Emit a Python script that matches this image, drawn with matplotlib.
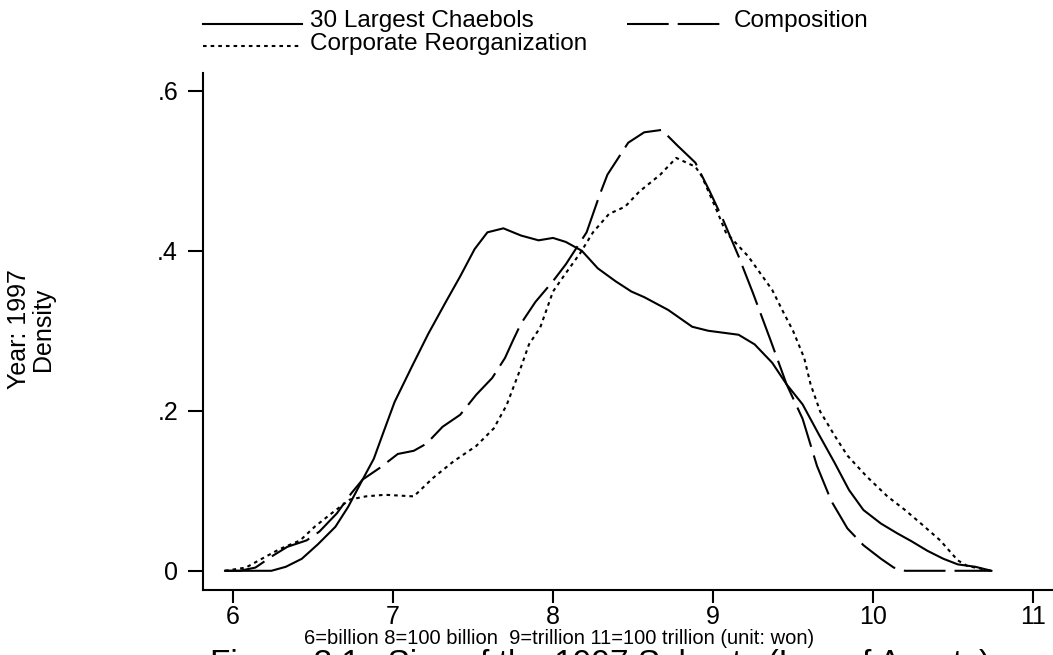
import matplotlib
matplotlib.use("Agg")
import numpy as np
import matplotlib.pyplot as plt
from matplotlib.legend_handler import HandlerLine2D
from matplotlib.lines import Line2D

plt.rcParams['font.family'] = ['Liberation Sans', 'DejaVu Sans']
plt.rcParams['lines.scale_dashes'] = False

# ---- data (log10 of assets, kernel density) ----
chaebol_x = [5.95, 6.24, 6.33, 6.43, 6.53, 6.64, 6.72, 6.81, 6.88, 6.94, 7.01, 7.12,
             7.22, 7.33, 7.42, 7.51, 7.59, 7.69, 7.80, 7.91, 8.00, 8.08, 8.18, 8.28,
             8.39, 8.49, 8.57, 8.72, 8.87, 8.97, 9.16, 9.26, 9.37, 9.46, 9.56, 9.66,
             9.76, 9.85, 9.94, 10.05, 10.15, 10.24, 10.34, 10.44, 10.53, 10.64, 10.74]
chaebol_y = [0.0, 0.0, 0.005, 0.015, 0.033, 0.055, 0.080, 0.114, 0.140, 0.173, 0.211, 0.256,
             0.296, 0.336, 0.368, 0.402, 0.423, 0.428, 0.419, 0.413, 0.416, 0.411, 0.400, 0.378,
             0.362, 0.349, 0.342, 0.326, 0.305, 0.300, 0.295, 0.283, 0.260, 0.233, 0.208, 0.171,
             0.135, 0.101, 0.076, 0.059, 0.047, 0.037, 0.025, 0.015, 0.008, 0.005, 0.0]

comp_x = [5.95, 6.04, 6.14, 6.25, 6.34, 6.46, 6.54, 6.65, 6.74, 6.81, 6.92, 7.03,
          7.13, 7.21, 7.31, 7.42, 7.52, 7.62, 7.70, 7.75, 7.80, 7.89, 8.00, 8.08,
          8.21, 8.29, 8.34, 8.47, 8.57, 8.68, 8.78, 8.89, 8.98, 9.06, 9.16, 9.25,
          9.36, 9.46, 9.56, 9.65, 9.74, 9.84, 9.94, 10.05, 10.13, 10.20, 10.74]
comp_y = [0.0, 0.0, 0.004, 0.019, 0.030, 0.038, 0.049, 0.072, 0.097, 0.114, 0.129, 0.146,
          0.150, 0.159, 0.180, 0.195, 0.220, 0.241, 0.266, 0.288, 0.309, 0.336, 0.362, 0.383,
          0.423, 0.469, 0.495, 0.535, 0.548, 0.551, 0.531, 0.510, 0.474, 0.440, 0.393, 0.347,
          0.288, 0.233, 0.190, 0.131, 0.087, 0.053, 0.032, 0.015, 0.004, 0.0, 0.0]

reorg_x = [5.95, 6.08, 6.18, 6.29, 6.42, 6.51, 6.63, 6.73, 6.83, 6.95, 7.13, 7.25,
           7.38, 7.52, 7.63, 7.71, 7.79, 7.85, 7.92, 8.00, 8.08, 8.17, 8.25, 8.35,
           8.45, 8.54, 8.67, 8.77, 8.89, 8.93, 9.02, 9.08, 9.22, 9.37, 9.44, 9.50,
           9.57, 9.61, 9.67, 9.76, 9.84, 9.96, 10.09, 10.20, 10.30, 10.42, 10.53,
           10.59, 10.74]
reorg_y = [0.0, 0.004, 0.015, 0.027, 0.038, 0.055, 0.074, 0.089, 0.093, 0.095, 0.093, 0.116,
           0.137, 0.156, 0.178, 0.207, 0.249, 0.283, 0.304, 0.349, 0.372, 0.397, 0.423, 0.446,
           0.455, 0.474, 0.495, 0.516, 0.505, 0.493, 0.452, 0.423, 0.393, 0.351, 0.323, 0.300,
           0.266, 0.233, 0.199, 0.169, 0.144, 0.118, 0.093, 0.076, 0.059, 0.038, 0.013,
           0.006, 0.0]

series_labels = ["30 Largest Chaebols", "Composition", "Corporate Reorganization"]
x_ticks = [6, 7, 8, 9, 10, 11]
x_ticklabels = ["6", "7", "8", "9", "10", "11"]
y_ticks = [0, 0.2, 0.4, 0.6]
y_ticklabels = ["0", ".2", ".4", ".6"]


class LowLine(HandlerLine2D):
    """Legend line drawn nearer the text baseline (as in the original)."""
    def create_artists(self, legend, orig_handle, xdescent, ydescent, width,
                       height, fontsize, trans):
        arts = super().create_artists(legend, orig_handle, xdescent, ydescent,
                                      width, height, fontsize, trans)
        for a in arts:
            if isinstance(a, Line2D):
                a.set_ydata(np.asarray(a.get_ydata()) - 0.22 * fontsize)
        return arts


W, H = 1053, 655
fig = plt.figure(figsize=(W / 100, H / 100), dpi=100)
ax = fig.add_axes([203 / W, (H - 590) / H, 850 / W, (590 - 72.7) / H])

lw = 1.5
l1, = ax.plot(chaebol_x, chaebol_y, color='black', lw=lw, solid_joinstyle='round')
l2, = ax.plot(comp_x, comp_y, color='black', lw=lw, linestyle=(0, (30, 6.5)),
              dash_capstyle='butt')
l3, = ax.plot(reorg_x, reorg_y, color='black', lw=lw, linestyle=(0, (2.6, 2.9)),
              dash_capstyle='butt')

ax.set_xlim(5.8125, 11.125)
ax.set_ylim(-0.024, 0.6225)
ax.set_xticks(x_ticks)
ax.set_xticklabels(x_ticklabels)
ax.set_yticks(y_ticks)
ax.set_yticklabels(y_ticklabels)

for s in ['top', 'right']:
    ax.spines[s].set_visible(False)
for s in ['left', 'bottom']:
    ax.spines[s].set_linewidth(1.5)
ax.tick_params(axis='x', direction='out', length=9, width=1.5, pad=2, labelsize=18)
ax.tick_params(axis='y', direction='out', length=11, width=1.5, pad=7, labelsize=18)

# legend
fs_leg = 17.5
fig.legend([l1, l3, l2], [series_labels[0], series_labels[2], series_labels[1]],
           ncol=2, loc='upper left', bbox_to_anchor=(203 / W, 1 - 10 / H),
           frameon=False, fontsize=fs_leg, handlelength=4.07, handletextpad=0.33,
           columnspacing=1.65, labelspacing=0.02, borderpad=0, borderaxespad=0,
           handler_map={Line2D: LowLine()})

# y title
fig.text(31 / W, (H - 329) / H, "Year: 1997\nDensity", rotation=90, ha='center',
         va='center', multialignment='center', fontsize=18, linespacing=1.0)

# x title
fig.text(559 / W, (H - 643.5) / H,
         "6=billion 8=100 billion  9=trillion 11=100 trillion (unit: won)",
         ha='center', va='baseline', fontsize=14.5)

# figure caption (cut off at the bottom in the original)
fig.text(600 / W, (H - 673.5) / H,
         "Figure 3.1 : Size of the 1997 Subsets (Log of Assets)",
         ha='center', va='baseline', fontsize=24)

fig.savefig("out.png", dpi=100)
